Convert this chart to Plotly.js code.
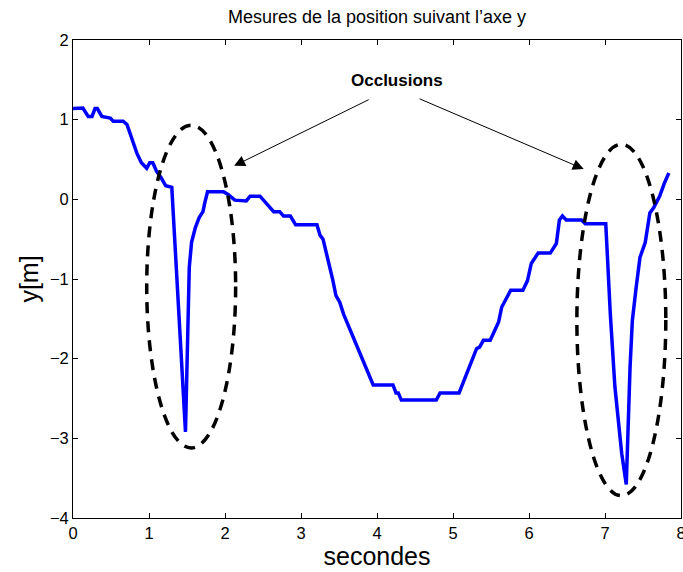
<!DOCTYPE html>
<html>
<head>
<meta charset="utf-8">
<script src="https://cdn.plot.ly/plotly-3.0.1.min.js"></script>
<style>html,body{margin:0;padding:0;background:#fff;}#chart{width:683px;height:572px;}</style>
</head>
<body>
<div id="chart"></div>
<script>
var timeS = [0.0,0.05,0.13,0.2,0.25,0.29,0.32,0.38,0.445,0.49,0.53,0.66,0.71,0.77,0.84,0.9,0.97,1.01,1.05,1.10,1.16,1.22,1.30,
  1.48,1.53,1.56,1.61,1.66,1.71,1.73,1.77,1.98,2.04,2.13,2.28,2.33,2.46,2.57,2.64,2.72,2.77,2.86,2.93,3.21,3.25,3.29,3.38,3.42,3.46,3.51,3.56,
  3.95,4.21,4.25,4.28,4.32,4.78,4.83,5.08,5.31,5.35,5.40,5.49,5.60,5.64,5.76,5.92,5.98,6.03,6.12,6.28,6.36,6.40,6.44,6.49,6.69,6.74,7.01,
  7.07,7.13,7.22,7.28,7.33,7.36,7.41,7.46,7.53,7.59,7.64,7.72,7.78,7.84];
var posY = [1.14,1.145,1.145,1.04,1.04,1.14,1.14,1.04,1.03,1.02,0.98,0.98,0.94,0.77,0.58,0.46,0.39,0.46,0.46,0.35,0.27,0.17,0.15,
  -2.92,-0.855,-0.54,-0.355,-0.23,-0.155,-0.06,0.095,0.095,0.06,-0.01,-0.02,0.04,0.04,-0.08,-0.155,-0.155,-0.21,-0.21,-0.32,-0.32,-0.45,-0.5,-0.83,-1.02,-1.21,-1.29,-1.44,
  -2.33,-2.33,-2.43,-2.43,-2.52,-2.52,-2.43,-2.43,-1.875,-1.855,-1.77,-1.77,-1.54,-1.355,-1.14,-1.14,-1.02,-0.805,-0.675,-0.675,-0.555,-0.26,-0.21,-0.26,-0.26,-0.305,-0.305,
  -1.44,-2.35,-3.19,-3.58,-2.1,-1.52,-1.105,-0.73,-0.54,-0.17,-0.105,0.04,0.2,0.33];

var xTicks = [0,1,2,3,4,5,6,7,8];
var yTicks = [-4,-3,-2,-1,0,1,2];

// occlusion ellipses: [x0, x1, y0, y1]
var ellipseLeft = [0.97, 2.14, -3.12, 0.93];
var ellipseRight = [6.63, 7.80, -3.72, 0.69];

var labelText = 'Occlusions';
var labelPos = [4.26, 1.49];
var arrowTails = [[3.91, 1.26], [4.54, 1.27]];
var arrowTips = [[2.12, 0.42], [6.72, 0.38]];

var font = 'Liberation Sans, Arial, Helvetica, sans-serif';

function ell(e){
  return {type:'circle', xref:'x', yref:'y', x0:e[0], x1:e[1], y0:e[2], y1:e[3],
    line:{color:'#000', width:3.5, dash:'11px,8px'}};
}

var annotations = [{
  x: labelPos[0], y: labelPos[1], xref:'x', yref:'y', text:'<b>'+labelText+'</b>', showarrow:false,
  font:{family:font, size:17, color:'#000'}
}];
for (var i=0;i<arrowTips.length;i++){
  annotations.push({x:arrowTips[i][0], y:arrowTips[i][1], xref:'x', yref:'y',
    ax:arrowTails[i][0], ay:arrowTails[i][1], axref:'x', ayref:'y', text:'', showarrow:true,
    arrowhead:2, arrowsize:2.2, arrowwidth:1, arrowcolor:'#000', standoff:0, startstandoff:0});
}

var trace = {x: timeS, y: posY, type:'scatter', mode:'lines',
  line:{color:'#0000ff', width:3.5}, hoverinfo:'skip'};

var axisCommon = {showgrid:false, zeroline:false, showline:true, linecolor:'#000', linewidth:1,
  mirror:'ticks', ticks:'inside', ticklen:5, tickcolor:'#000', ticklabeloverflow:'allow',
  tickfont:{family:font, size:16.5, color:'#000'}};

var layout = {
  width:683, height:572, paper_bgcolor:'#fff', plot_bgcolor:'#fff', showlegend:false,
  margin:{l:73, r:2, t:40, b:54},
  title:{text:'Mesures de la position suivant l\u2019axe y', font:{family:font, size:18, color:'#000'},
    x:0.5, xanchor:'center', xref:'paper', y:1-17/572, yanchor:'middle', yref:'container'},
  xaxis: Object.assign({}, axisCommon, {range:[0,8], tickvals:xTicks, ticktext:xTicks.map(String),
    title:{text:'secondes', font:{family:font, size:25, color:'#000'}, standoff:6}}),
  yaxis: Object.assign({}, axisCommon, {range:[-4,2], tickvals:yTicks, ticktext:yTicks.map(function(v){return v<0?'\u2212'+Math.abs(v):String(v);}),
    title:{text:'y[m]', font:{family:font, size:25, color:'#000'}, standoff:4}}),
  shapes:[ell(ellipseLeft), ell(ellipseRight)],
  annotations: annotations
};

Plotly.newPlot('chart', [trace], layout, {displayModeBar:false, staticPlot:true});
</script>
</body>
</html>
